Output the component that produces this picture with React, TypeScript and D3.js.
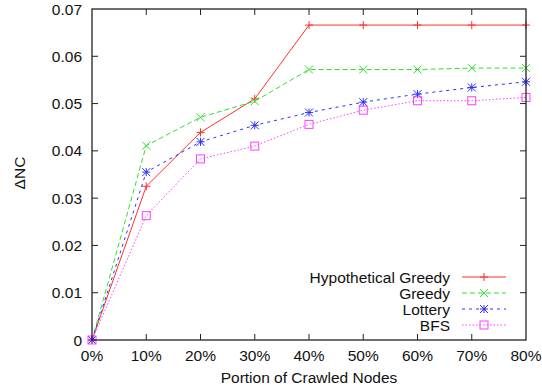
import React from "react";
import * as d3 from "d3";

const categories = ["0%", "10%", "20%", "30%", "40%", "50%", "60%", "70%", "80%"];
const hypotheticalGreedy = [0, 0.0325, 0.0439, 0.051, 0.0666, 0.0666, 0.0666, 0.0666, 0.0666];
const greedy = [0, 0.0411, 0.0471, 0.0505, 0.0572, 0.0572, 0.0572, 0.0575, 0.0575];
const lottery = [0, 0.0355, 0.0419, 0.0454, 0.0481, 0.0503, 0.052, 0.0534, 0.0546];
const bfs = [0, 0.0263, 0.0383, 0.041, 0.0456, 0.0486, 0.0506, 0.0506, 0.0513];
const yTicks = [0, 0.01, 0.02, 0.03, 0.04, 0.05, 0.06, 0.07];
const yTickLabels = ["0", "0.01", "0.02", "0.03", "0.04", "0.05", "0.06", "0.07"];

const series = [
  { name: "Hypothetical Greedy", values: hypotheticalGreedy, color: "#ff3030", dash: "", marker: "plus" },
  { name: "Greedy", values: greedy, color: "#30e030", dash: "5,3", marker: "x" },
  { name: "Lottery", values: lottery, color: "#3030ff", dash: "3,4", marker: "star" },
  { name: "BFS", values: bfs, color: "#ff40ff", dash: "1.5,2", marker: "square" },
];

const W = 542, H = 391;
const L = 92, R = 526, T = 9, B = 340;
const font = "'Liberation Sans', Arial, sans-serif";
const FS = 15.5;

function Marker({ type, x, y, color }: { type: string; x: number; y: number; color: string }) {
  const s = 4;
  if (type === "plus") {
    return <path d={`M${x - s},${y}H${x + s}M${x},${y - s}V${y + s}`} stroke={color} strokeWidth={1} fill="none" />;
  }
  if (type === "x") {
    return <path d={`M${x - s},${y - s}L${x + s},${y + s}M${x - s},${y + s}L${x + s},${y - s}`} stroke={color} strokeWidth={1} fill="none" />;
  }
  if (type === "star") {
    return (
      <path
        d={`M${x - s},${y}H${x + s}M${x},${y - s}V${y + s}M${x - s},${y - s}L${x + s},${y + s}M${x - s},${y + s}L${x + s},${y - s}`}
        stroke={color}
        strokeWidth={1}
        fill="none"
      />
    );
  }
  return <rect x={x - s} y={y - s} width={2 * s} height={2 * s} stroke={color} strokeWidth={1} fill="none" />;
}

export default function App() {
  const x = d3.scalePoint<string>().domain(categories).range([L, R]);
  const y = d3.scaleLinear().domain([0, 0.07]).range([B, T]);
  const line = d3
    .line<number>()
    .x((_, i) => x(categories[i]) as number)
    .y((d) => y(d));

  const legendX = 450;
  const legendY0 = 277;
  const legendDy = 16;

  return (
    <svg width={W} height={H} style={{ position: "absolute", left: 0, top: 0, background: "#fff" }} fontFamily={font}>
      {categories.map((c, i) => {
        const xx = x(c) as number;
        return (
          <g key={c}>
            {i > 0 && i < categories.length - 1 && (
              <>
                <line x1={xx} x2={xx} y1={B} y2={B - 6} stroke="#222" />
                <line x1={xx} x2={xx} y1={T} y2={T + 6} stroke="#222" />
              </>
            )}
            <text x={xx} y={361} fontSize={FS} textAnchor="middle" fill="#111">
              {c}
            </text>
          </g>
        );
      })}
      {yTicks.map((t, i) => {
        const yy = y(t);
        return (
          <g key={t}>
            {i > 0 && i < yTicks.length - 1 && (
              <>
                <line x1={L} x2={L + 6} y1={yy} y2={yy} stroke="#222" />
                <line x1={R} x2={R - 6} y1={yy} y2={yy} stroke="#222" />
              </>
            )}
            <text x={82} y={yy + 5.5} fontSize={FS} textAnchor="end" fill="#111">
              {yTickLabels[i]}
            </text>
          </g>
        );
      })}
      {series.map((s) => (
        <g key={s.name}>
          <path d={line(s.values) || ""} stroke={s.color} strokeWidth={1} fill="none" strokeDasharray={s.dash} />
          {s.values.map((v, i) => (
            <Marker key={i} type={s.marker} x={x(categories[i]) as number} y={y(v)} color={s.color} />
          ))}
        </g>
      ))}
      <rect x={L} y={T} width={R - L} height={B - T} fill="none" stroke="#222" strokeWidth={1.3} />
      {series.map((s, i) => {
        const ly = legendY0 + i * legendDy;
        return (
          <g key={s.name}>
            <text x={legendX} y={ly + 5.5} fontSize={FS} textAnchor="end" fill="#111">
              {s.name}
            </text>
            <line x1={462} x2={506} y1={ly} y2={ly} stroke={s.color} strokeWidth={1} strokeDasharray={s.dash} />
            <Marker type={s.marker} x={484} y={ly} color={s.color} />
          </g>
        );
      })}
      <text x={(L + R) / 2} y={383} fontSize={FS} textAnchor="middle" fill="#111">
        Portion of Crawled Nodes
      </text>
      <text transform={`translate(25,173) rotate(-90)`} fontSize={FS} textAnchor="middle" fill="#111">
        ΔNC
      </text>
    </svg>
  );
}
